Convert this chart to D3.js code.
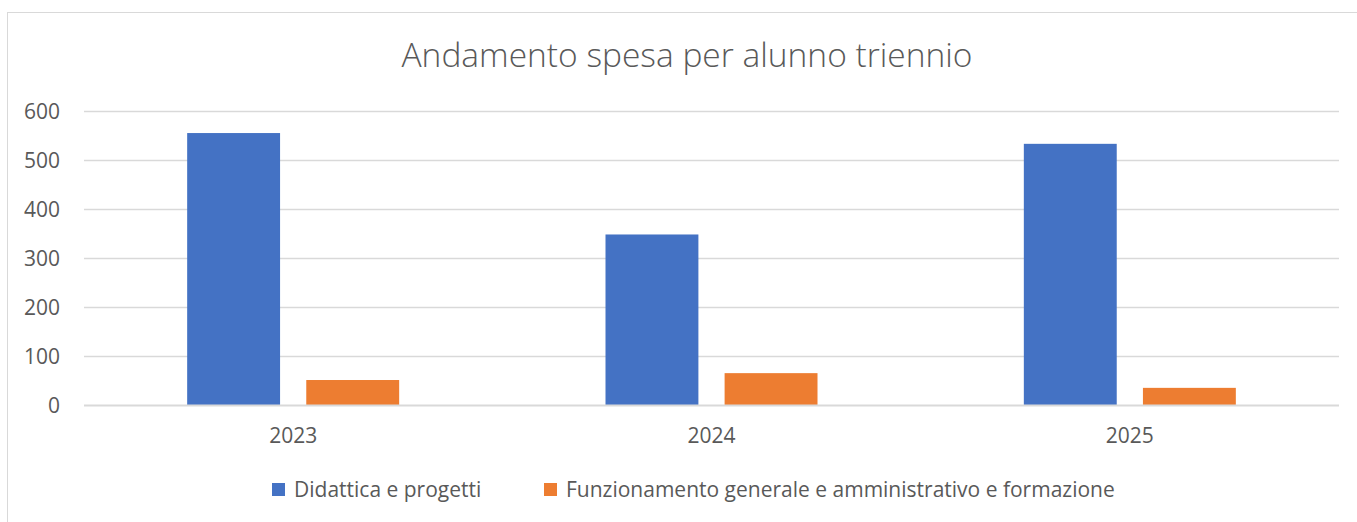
<!DOCTYPE html>
<html>
<head>
<meta charset="utf-8">
<script src="https://cdn.jsdelivr.net/npm/d3@7"></script>
<style>
  body { margin: 0; background: #fff; }
  svg text { font-family: "Open Sans", "Noto Sans", sans-serif; fill: #595959; }
</style>
</head>
<body>
<svg></svg>
<script>
var years = ["2023", "2024", "2025"];
var seriesNames = ["Didattica e progetti", "Funzionamento generale e amministrativo e formazione"];
var didattica = [555, 348, 533];
var funzionamento = [51, 65, 35];
var yTicks = [0, 100, 200, 300, 400, 500, 600];
var colors = ["#4472c4", "#ed7d31"];

var W = 1357, H = 522;
var margin = {top: 111, right: 18, bottom: 117, left: 84},
    width = W - margin.left - margin.right,
    height = H - margin.top - margin.bottom;

var svg = d3.select("svg").attr("width", W).attr("height", H);

// chart frame (runs off right/bottom edge like the screenshot)
svg.append("rect")
    .attr("x", 7.5).attr("y", 12.5)
    .attr("width", 1400).attr("height", 600)
    .attr("fill", "none").attr("stroke", "#d9d9d9").attr("stroke-width", 1);

svg.append("text")
    .attr("x", 687).attr("y", 67)
    .attr("text-anchor", "middle")
    .style("font-size", "33.5px")
    .style("font-weight", 300)
    .text("Andamento spesa per alunno triennio");

var x = d3.scaleBand().domain(years).range([0, width]);
var x1 = d3.scaleBand().domain([0, 1]).range([0, 212]).paddingInner(0.22);
var y = d3.scaleLinear().domain([0, 600]).range([height, 0]);

var g = svg.append("g")
    .attr("transform", "translate(" + margin.left + "," + margin.top + ")");

g.selectAll(".grid")
    .data(yTicks.filter(function(d) { return d > 0; }))
    .enter().append("line")
    .attr("x1", 0).attr("x2", width)
    .attr("y1", function(d) { return Math.round(y(d)) + 0.5; })
    .attr("y2", function(d) { return Math.round(y(d)) + 0.5; })
    .attr("stroke", "#d9d9d9").attr("stroke-width", 1.3);

var yAxis = d3.axisLeft(y).tickValues(yTicks).tickSize(0).tickPadding(24);
g.append("g").attr("class", "axis axis--y").call(yAxis)
    .call(function(s) { s.select(".domain").remove(); })
    .selectAll("text").style("font-size", "21px").attr("dy", "0.35em");

var data = years.map(function(yr, i) { return [didattica[i], funzionamento[i]]; });

var groups = g.selectAll(".grp")
    .data(data)
    .enter().append("g")
    .attr("transform", function(d, i) {
        return "translate(" + (x(years[i]) + x.bandwidth() / 2 - 106) + ",0)";
    });

groups.selectAll("rect")
    .data(function(d) { return d; })
    .enter().append("rect")
    .attr("x", function(d, j) { return x1(j); })
    .attr("width", x1.bandwidth())
    .attr("y", function(d) { return y(d); })
    .attr("height", function(d) { return height - y(d); })
    .attr("fill", function(d, j) { return colors[j]; });

g.append("line")
    .attr("x1", 0).attr("x2", width)
    .attr("y1", height + 0.5).attr("y2", height + 0.5)
    .attr("stroke", "#d9d9d9").attr("stroke-width", 2);

var xAxis = d3.axisBottom(x).tickSize(0);
g.append("g").attr("transform", "translate(0," + height + ")").call(xAxis)
    .call(function(s) { s.select(".domain").remove(); })
    .selectAll("text").style("font-size", "21px").attr("y", 31).attr("dy", "0.35em");

// legend
var legendX = [272, 544];
var legend = svg.selectAll(".legend")
    .data(seriesNames)
    .enter().append("g")
    .attr("transform", function(d, i) { return "translate(" + legendX[i] + ",490)"; });
legend.append("rect")
    .attr("x", 0).attr("y", -7).attr("width", 13).attr("height", 13)
    .attr("fill", function(d, i) { return colors[i]; });
legend.append("text")
    .attr("x", 22).attr("y", 0).attr("dy", "0.35em")
    .style("font-size", "21px")
    .text(function(d) { return d; });
</script>
</body>
</html>
